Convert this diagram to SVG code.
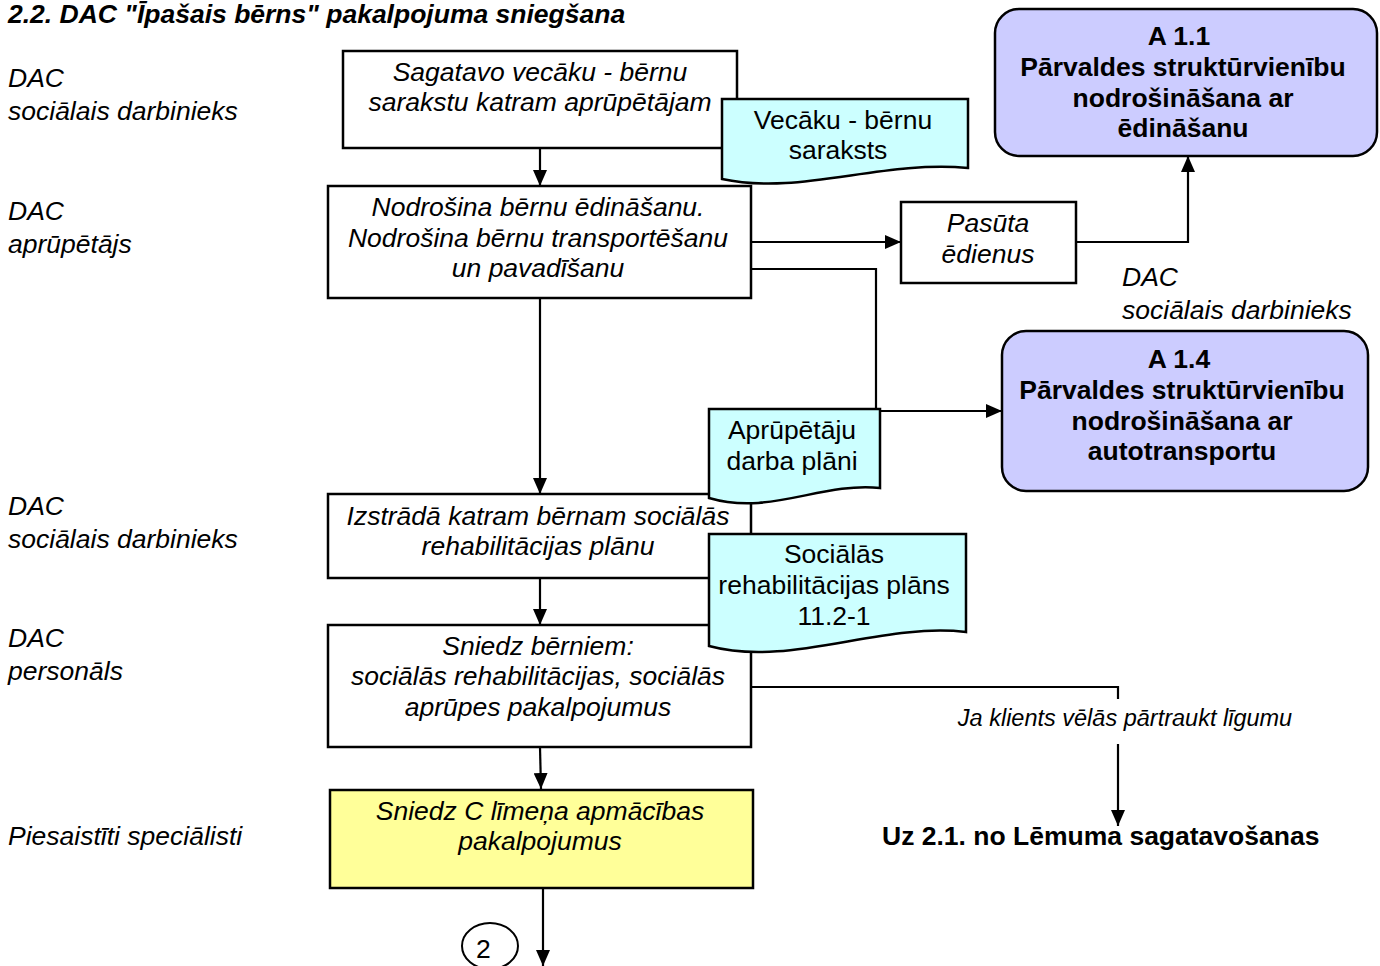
<svg xmlns="http://www.w3.org/2000/svg" width="1380" height="966" viewBox="0 0 1380 966">
  <style>
    text { font-family: "Liberation Sans", Arial, sans-serif; fill: #000; }
    .t { font-size: 26.5px; }
    .it { font-style: italic; }
    .b { font-weight: bold; }
    .c { text-anchor: middle; }
    .box { fill: #fff; stroke: #000; stroke-width: 2.5; }
    .doc { fill: #ccffff; stroke: #000; stroke-width: 2.5; }
    .ext { fill: #ccccff; stroke: #000; stroke-width: 2.5; }
    .yel { fill: #ffff99; stroke: #000; stroke-width: 2.5; }
    .ln { fill: none; stroke: #000; stroke-width: 2.2; }
  </style>
  <defs>
    <marker id="ah" markerUnits="userSpaceOnUse" markerWidth="16" markerHeight="14" viewBox="0 0 16 14" refX="16" refY="7" orient="auto">
      <path d="M0,0 L16,7 L0,14 Z" fill="#000"/>
    </marker>
  </defs>

  <rect width="1380" height="966" fill="#fff"/>

  <!-- title and lane labels -->
  <g id="labels">
    <text class="t it b" x="8" y="23">2.2. DAC "Īpašais bērns" pakalpojuma sniegšana</text>
    <text class="t it" x="8" y="87">DAC</text>
    <text class="t it" x="8" y="120">sociālais darbinieks</text>
    <text class="t it" x="8" y="220">DAC</text>
    <text class="t it" x="8" y="253">aprūpētājs</text>
    <text class="t it" x="8" y="515">DAC</text>
    <text class="t it" x="8" y="548">sociālais darbinieks</text>
    <text class="t it" x="8" y="647">DAC</text>
    <text class="t it" x="8" y="680">personāls</text>
    <text class="t it" x="8" y="845">Piesaistīti speciālisti</text>
    <text class="t it" x="1122" y="286">DAC</text>
    <text class="t it" x="1122" y="319">sociālais darbinieks</text>
  </g>

  <!-- connectors -->
  <g id="connectors">
    <line class="ln" x1="540" y1="148" x2="540" y2="186" marker-end="url(#ah)"/>
    <line class="ln" x1="751" y1="242" x2="901" y2="242" marker-end="url(#ah)"/>
    <polyline class="ln" points="1076,242 1188,242 1188,156" marker-end="url(#ah)"/>
    <polyline class="ln" points="751,269 876,269 876,411 1002,411" marker-end="url(#ah)"/>
    <line class="ln" x1="540" y1="298" x2="540" y2="494" marker-end="url(#ah)"/>
    <line class="ln" x1="540" y1="578" x2="540" y2="625" marker-end="url(#ah)"/>
    <line class="ln" x1="540" y1="747" x2="541" y2="789" marker-end="url(#ah)"/>
    <polyline class="ln" points="751,687 1118,687 1118,699"/>
    <line class="ln" x1="1118" y1="744" x2="1118" y2="826" marker-end="url(#ah)"/>
    <line class="ln" x1="543" y1="888" x2="543" y2="966" marker-end="url(#ah)"/>
    <text class="it c" x="1125" y="726" font-size="23.5">Ja klients vēlās pārtraukt līgumu</text>
  </g>

  <g id="n-sagatavo">
    <rect class="box" x="343" y="51" width="394" height="97"/>
    <text class="t it c" x="540" y="81">Sagatavo vecāku - bērnu</text>
    <text class="t it c" x="540" y="111">sarakstu katram aprūpētājam</text>
  </g>

  <g id="d-saraksts">
    <path class="doc" d="M722,99 H968 V168 C880,160 800,196 722,179 Z"/>
    <text class="t c" x="843" y="129">Vecāku - bērnu</text>
    <text class="t c" x="838" y="159">saraksts</text>
  </g>

  <g id="n-nodrosina">
    <rect class="box" x="328" y="186" width="423" height="112"/>
    <text class="t it c" x="538" y="216">Nodrošina bērnu ēdināšanu.</text>
    <text class="t it c" x="538" y="247">Nodrošina bērnu transportēšanu</text>
    <text class="t it c" x="538" y="277">un pavadīšanu</text>
  </g>

  <g id="n-pasuta">
    <rect class="box" x="901" y="202" width="175" height="81"/>
    <text class="t it c" x="988" y="232">Pasūta</text>
    <text class="t it c" x="988" y="263">ēdienus</text>
  </g>

  <g id="n-a11">
    <rect class="ext" x="995" y="9" width="382" height="147" rx="24"/>
    <text class="t b c" x="1179" y="45">A 1.1</text>
    <text class="t b c" x="1183" y="76">Pārvaldes struktūrvienību</text>
    <text class="t b c" x="1183" y="107">nodrošināšana ar</text>
    <text class="t b c" x="1183" y="137">ēdināšanu</text>
  </g>

  <g id="n-a14">
    <rect class="ext" x="1002" y="331" width="366" height="160" rx="24"/>
    <text class="t b c" x="1179" y="368">A 1.4</text>
    <text class="t b c" x="1182" y="399">Pārvaldes struktūrvienību</text>
    <text class="t b c" x="1182" y="430">nodrošināšana ar</text>
    <text class="t b c" x="1182" y="460">autotransportu</text>
  </g>

  <g id="n-izstrada">
    <rect class="box" x="328" y="494" width="423" height="84"/>
    <text class="t it c" x="538" y="525">Izstrādā katram bērnam sociālās</text>
    <text class="t it c" x="538" y="555">rehabilitācijas plānu</text>
  </g>

  <g id="d-plani">
    <path class="doc" d="M709,409 H880 V488 C820,482 770,516 709,498 Z"/>
    <text class="t c" x="792" y="439">Aprūpētāju</text>
    <text class="t c" x="792" y="470">darba plāni</text>
  </g>

  <g id="n-sniedz">
    <rect class="box" x="328" y="625" width="423" height="122"/>
    <text class="t it c" x="538" y="655">Sniedz bērniem:</text>
    <text class="t it c" x="538" y="685">sociālās rehabilitācijas, sociālās</text>
    <text class="t it c" x="538" y="716">aprūpes pakalpojumus</text>
  </g>

  <g id="d-rehab">
    <path class="doc" d="M709,534 H966 V632 C880,622 790,668 709,646 Z"/>
    <text class="t c" x="834" y="563">Sociālās</text>
    <text class="t c" x="834" y="594">rehabilitācijas plāns</text>
    <text class="t c" x="834" y="625">11.2-1</text>
  </g>

  <g id="n-apmaciba">
    <rect class="yel" x="330" y="790" width="423" height="98"/>
    <text class="t it c" x="540" y="820">Sniedz C līmeņa apmācības</text>
    <text class="t it c" x="540" y="850">pakalpojumus</text>
  </g>

  <g id="n-uz21">
    <text class="t b" x="882" y="845">Uz 2.1. no Lēmuma sagatavošanas</text>
  </g>

  <g id="n-conn2">
    <ellipse cx="490" cy="946" rx="28" ry="23" fill="#fff" stroke="#000" stroke-width="2"/>
    <text class="t" x="476" y="958">2</text>
  </g>
</svg>
